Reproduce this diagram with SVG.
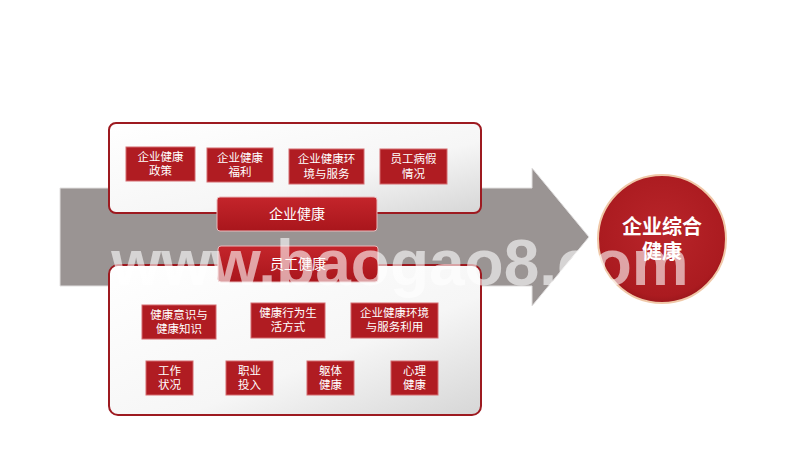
<svg xmlns="http://www.w3.org/2000/svg" width="800" height="450" viewBox="0 0 800 450">
<defs>
<linearGradient id="panel" x1="0" y1="0" x2="1" y2="1">
<stop offset="0" stop-color="#ffffff"/><stop offset="0.6" stop-color="#f6f6f6"/><stop offset="1" stop-color="#d6d6d6"/>
</linearGradient>
<linearGradient id="bar" x1="0" y1="0" x2="0" y2="1">
<stop offset="0" stop-color="#c4252b"/><stop offset="1" stop-color="#a9161c"/>
</linearGradient>
<radialGradient id="circ" cx="0.5" cy="0.45" r="0.55">
<stop offset="0" stop-color="#b9252a"/><stop offset="0.9" stop-color="#ab1b20"/><stop offset="1" stop-color="#9c171c"/>
</radialGradient>
<style>
.panel{fill:url(#panel);stroke:#9d1a20;stroke-width:2}
.box{fill:#b01c22;stroke:#d46a6e;stroke-width:1}
.bar{fill:url(#bar);stroke:#e9b9bb;stroke-width:1}
.t{font-family:"Noto Sans CJK SC","Noto Sans",sans-serif;fill:#ffffff;font-size:11.5px;text-anchor:middle}
.tb{font-family:"Noto Sans CJK SC","Noto Sans",sans-serif;fill:#ffffff;font-size:14px;text-anchor:middle}
.tc{font-family:"Noto Sans CJK SC","Noto Sans",sans-serif;fill:#ffffff;font-size:20px;font-weight:bold;text-anchor:middle}
</style>
</defs>
<rect width="800" height="450" fill="#ffffff"/>
<g id="connectors">
<polygon id="arrow" points="60,188 532,188 532,168 589,237 532,306 532,286 60,286" fill="#9a9493" stroke="#e2e0e0" stroke-width="1"/>
</g>
<g id="top-panel">
<rect class="panel" x="109" y="123" width="372" height="90" rx="7"/>
</g>
<g id="n1"><rect class="box" x="126" y="147" width="69" height="34"/><text class="t" x="160.5" y="161">企业健康</text><text class="t" x="160.5" y="175">政策</text></g>
<g id="n2"><rect class="box" x="207" y="148" width="66" height="34"/><text class="t" x="240" y="162">企业健康</text><text class="t" x="240" y="176">福利</text></g>
<g id="n3"><rect class="box" x="289" y="149" width="75" height="35"/><text class="t" x="326.5" y="163">企业健康环</text><text class="t" x="326.5" y="178">境与服务</text></g>
<g id="n4"><rect class="box" x="380" y="149" width="67" height="35"/><text class="t" x="413.5" y="163">员工病假</text><text class="t" x="413.5" y="178">情况</text></g>
<g id="bottom-panel">
<rect class="panel" x="109" y="265" width="372" height="150" rx="9"/>
</g>
<g id="bar1"><rect class="bar" x="217" y="197" width="160" height="34" rx="3"/><text class="tb" x="297" y="219">企业健康</text></g>
<g id="bar2"><rect class="bar" x="218" y="246" width="160" height="36" rx="3"/><text class="tb" x="298" y="269">员工健康</text></g>
<g id="m1"><rect class="box" x="142" y="305" width="74" height="34"/><text class="t" x="179" y="319">健康意识与</text><text class="t" x="179" y="333">健康知识</text></g>
<g id="m2"><rect class="box" x="251" y="303" width="74" height="35"/><text class="t" x="288" y="317">健康行为生</text><text class="t" x="288" y="331">活方式</text></g>
<g id="m3"><rect class="box" x="351" y="303" width="87" height="35"/><text class="t" x="394.5" y="317">企业健康环境</text><text class="t" x="394.5" y="331">与服务利用</text></g>
<g id="b1"><rect class="box" x="146" y="361" width="47" height="34"/><text class="t" x="169.5" y="375">工作</text><text class="t" x="169.5" y="389">状况</text></g>
<g id="b2"><rect class="box" x="226" y="361" width="47" height="34"/><text class="t" x="249.5" y="375">职业</text><text class="t" x="249.5" y="389">投入</text></g>
<g id="b3"><rect class="box" x="307" y="361" width="47" height="34"/><text class="t" x="330.5" y="375">躯体</text><text class="t" x="330.5" y="389">健康</text></g>
<g id="b4"><rect class="box" x="391" y="361" width="47" height="34"/><text class="t" x="414.5" y="375">心理</text><text class="t" x="414.5" y="389">健康</text></g>
<g id="result">
<circle cx="662" cy="239" r="64" fill="url(#circ)" stroke="#f0c8a8" stroke-width="2"/>
<text class="tc" x="662" y="234">企业综合</text>
<text class="tc" x="662" y="259">健康</text>
</g>
<text x="400" y="285" font-family="Liberation Sans,Arial,sans-serif" font-size="64" font-weight="bold" fill="#ffffff" fill-opacity="0.6" text-anchor="middle">www.baogao8.com</text>
</svg>
